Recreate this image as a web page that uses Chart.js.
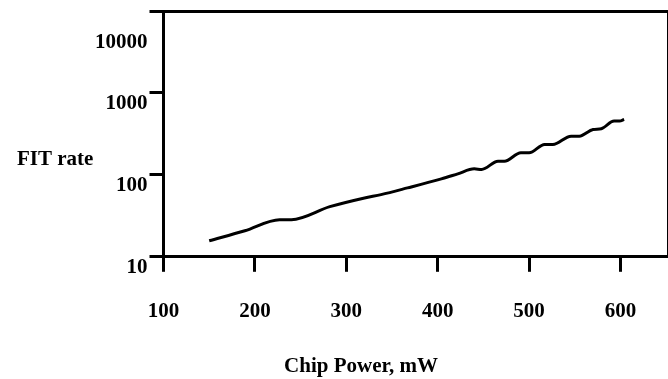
<!DOCTYPE html>
<html>
<head>
<meta charset="utf-8">
<title>FIT rate vs Chip Power</title>
<script src="https://cdn.jsdelivr.net/npm/chart.js@4.4.1/dist/chart.umd.min.js"></script>
<style>
    html, body { margin: 0; padding: 0; background: #ffffff; }
    #fitChart { display: block; }
</style>
</head>
<body>
<canvas id="fitChart" width="668" height="379"></canvas>
<script>
// values
const chipPower = [150, 189, 227, 240, 282, 320, 338, 367, 404, 422, 440, 448, 466, 473, 491, 500, 517, 526, 546, 555, 570, 579, 593, 599, 604];
const fitRate = [15.7, 20.8, 28.4, 28.4, 40.9, 52.3, 57.4, 69.3, 89.3, 102.8, 118.4, 116.5, 146.7, 146.7, 185.8, 185.8, 234.9, 234.9, 296.9, 296.9, 358.4, 365.7, 453, 453, 475];
const xTickValues = [100, 200, 300, 400, 500, 600];
const yTickValues = [10, 100, 1000, 10000];

const labelFont = { family: "'Liberation Serif', 'Times New Roman', serif", size: 21, weight: "bold" };

// axis titles are drawn flat (the y title is not rotated in the original)
const axisTitles = {
    id: "axisTitles",
    afterDraw(chart) {
        const ctx = chart.ctx;
        ctx.save();
        ctx.fillStyle = "#000";
        ctx.font = "bold 21px 'Liberation Serif', 'Times New Roman', serif";
        ctx.textBaseline = "middle";
        ctx.textAlign = "left";
        ctx.fillText("FIT rate", 17, 160);
        ctx.textAlign = "center";
        ctx.fillText("Chip Power, mW", 361, 367);
        ctx.restore();
    }
};

function drawChart() {
    const ctx = document.getElementById("fitChart").getContext("2d");
    const points = chipPower.map((p, i) => ({ x: p, y: fitRate[i] }));

    new Chart(ctx, {
        type: "line",
        data: {
            datasets: [
                {
                    label: "FIT rate",
                    data: points,
                    borderColor: "#000",
                    borderWidth: 3,
                    pointRadius: 0,
                    cubicInterpolationMode: "monotone",
                    fill: false,
                },
            ],
        },
        options: {
            responsive: false,
            animation: false,
            devicePixelRatio: 1,
            layout: { padding: { left: 93, top: 11, right: 0, bottom: 28 } },
            plugins: {
                legend: { display: false },
                tooltip: { enabled: false },
            },
            scales: {
                x: {
                    type: "linear",
                    position: "bottom",
                    min: 100,
                    max: 652,
                    afterBuildTicks: scale => {
                        scale.ticks = xTickValues.map(v => ({ value: v }));
                    },
                    ticks: {
                        color: "#000",
                        font: labelFont,
                        padding: 27,
                        maxRotation: 0,
                        autoSkip: false,
                    },
                    grid: {
                        drawOnChartArea: false,
                        tickLength: 15,
                        lineWidth: 3,
                        color: "#000",
                    },
                    border: { display: true, width: 3, color: "#000" },
                },
                y: {
                    type: "logarithmic",
                    position: "left",
                    min: 10,
                    max: 10000,
                    afterBuildTicks: scale => {
                        scale.ticks = yTickValues.map(v => ({ value: v }));
                    },
                    afterFit: scale => {
                        // labels sit below their tick marks, keep them from padding the plot
                        scale.paddingTop = 0;
                        scale.paddingBottom = 0;
                    },
                    ticks: {
                        color: "#000",
                        font: { ...labelFont, lineHeight: 1 },
                        padding: 2,
                        autoSkip: false,
                        callback: value => value === 10000 ? ["", "", "", "10000"] : ["", String(value)],
                    },
                    grid: {
                        drawOnChartArea: false,
                        tickLength: 14,
                        lineWidth: 3,
                        color: "#000",
                    },
                    border: { display: true, width: 3, color: "#000" },
                },
                xTop: {
                    type: "linear",
                    position: "top",
                    ticks: { display: false },
                    grid: { display: false, drawTicks: false },
                    border: { display: true, width: 3, color: "#000" },
                },
                yRight: {
                    type: "linear",
                    position: "right",
                    ticks: { display: false },
                    grid: { display: false, drawTicks: false },
                    border: { display: true, width: 2, color: "#000" },
                },
            },
        },
        plugins: [axisTitles],
    });
}

drawChart();
</script>
</body>
</html>
